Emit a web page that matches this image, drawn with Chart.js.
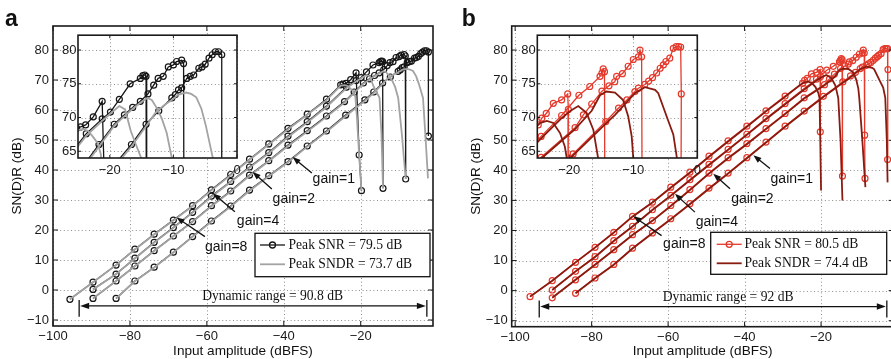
<!doctype html>
<html lang="en">
<head>
<meta charset="UTF-8">
<title>SN(D)R versus input amplitude</title>
<script src="https://cdn.jsdelivr.net/npm/chart.js@4.4.1/dist/chart.umd.min.js"></script>
<style>
  html, body { margin: 0; padding: 0; background: #fff; }
  body { width: 891px; height: 359px; overflow: hidden; position: relative; }
  canvas { position: absolute; }
</style>
</head>
<body>
<canvas id="mainA" width="445" height="359" style="left:0;top:0;width:445px;height:359px"></canvas>
<canvas id="insetA" width="200" height="150" style="left:50px;top:30px;width:200px;height:150px"></canvas>
<canvas id="mainB" width="460" height="359" style="left:445px;top:0;width:460px;height:359px"></canvas>
<canvas id="insetB" width="200" height="150" style="left:509px;top:30px;width:200px;height:150px"></canvas>
<script>
const SANS = "'Liberation Sans', Arial, Helvetica, sans-serif";
const SERIF = "'Liberation Serif', 'Times New Roman', serif";

// tick labels
const mainXTicks = [-100, -80, -60, -40, -20];
const mainYTicks = [-10, 0, 10, 20, 30, 40, 50, 60, 70, 80];
const insetXTicks = [-20, -10, 0];
const insetYTicks = [65, 70, 75, 80];

// panel a  -- [input amplitude (dBFS), dB]
const aSnr8 = [[-95.6,-3.1],[-89.6,2.6],[-83.6,8.3],[-78.7,13.6],[-73.7,18.6],[-68.7,23.3],[-63.7,28.1],[-58.8,33.4],[-53.8,38.5],[-48.9,43.6],[-43.9,48.7],[-38.9,53.9],[-33.9,58.6],[-28.9,63.6],[-25.2,68.4],[-24.6,68.6],[-23.8,68.9],[-22.6,70.1],[-21.2,72.4],[-20.4,45.0],[-19.8,33.1]];
const aSndr8 = [[-95.6,-3.1],[-89.6,2.6],[-83.6,8.3],[-78.7,13.5],[-73.7,18.5],[-68.7,23.2],[-63.7,28.0],[-58.8,33.2],[-53.8,38.3],[-48.9,43.4],[-43.9,48.5],[-38.9,53.6],[-33.9,58.4],[-28.9,63.3],[-25.2,68.1],[-24.2,68.3],[-23.4,68.0],[-22.7,67.2],[-21.9,66.2],[-21.4,64.5],[-21.0,58.0],[-20.4,45.0],[-19.8,33.1]];
const aSnr4 = [[-89.6,0.2],[-83.6,5.3],[-78.7,10.6],[-73.7,15.9],[-68.7,20.8],[-63.7,25.9],[-58.8,31.3],[-53.8,36.2],[-48.9,41.0],[-43.9,45.8],[-38.9,51.3],[-33.9,56.1],[-28.9,61.3],[-23.7,67.6],[-21.2,69.8],[-19.9,70.8],[-18.5,72.7],[-16.8,75.0],[-15.2,75.8],[-14.8,76.2],[-14.5,76.3],[-14.3,76.1],[-14.2,33.9]];
const aSndr4 = [[-89.6,0.2],[-83.6,5.3],[-78.7,10.5],[-73.7,15.8],[-68.7,20.7],[-63.7,25.8],[-58.8,31.1],[-53.8,36.0],[-48.9,40.8],[-43.9,45.6],[-38.9,51.0],[-33.9,55.8],[-28.9,61.0],[-23.7,67.3],[-21.2,69.5],[-19.9,70.6],[-18.5,71.7],[-17.6,71.2],[-16.7,68.0],[-15.9,66.0],[-15.1,64.1],[-14.6,52.0],[-14.2,33.9]];
const aSnr2 = [[-89.6,-2.8],[-83.6,3.0],[-78.7,8.0],[-73.7,13.1],[-68.7,18.0],[-63.7,22.8],[-58.8,28.1],[-53.8,33.0],[-48.9,38.3],[-43.9,43.1],[-38.9,48.3],[-33.9,53.1],[-28.9,58.0],[-24.2,62.8],[-21.7,66.0],[-19.3,69.0],[-17.7,70.4],[-16.4,71.5],[-15.2,72.4],[-14.0,73.5],[-13.1,74.8],[-12.4,75.8],[-11.6,76.1],[-10.8,77.5],[-10.0,77.8],[-9.5,78.3],[-8.7,78.5],[-8.4,78.0],[-8.3,37.0]];
const aSndr2 = [[-89.6,-2.8],[-83.6,3.0],[-78.7,7.9],[-73.7,13.0],[-68.7,17.9],[-63.7,22.7],[-58.8,27.9],[-53.8,32.8],[-48.9,38.1],[-43.9,42.9],[-38.9,48.0],[-33.9,52.8],[-28.9,57.7],[-24.2,62.5],[-21.7,65.7],[-19.3,68.8],[-17.7,70.2],[-16.4,71.3],[-15.2,72.2],[-14.1,72.9],[-13.4,72.6],[-12.6,71.4],[-11.8,69.8],[-11.05,67.7],[-10.25,64.0],[-9.3,52.0],[-8.3,37.0]];
const aSnr1 = [[-83.6,-2.8],[-78.7,3.0],[-73.7,7.6],[-68.7,12.6],[-63.7,17.8],[-58.8,23.0],[-53.8,28.0],[-48.9,33.3],[-43.9,38.1],[-38.9,42.8],[-33.9,48.0],[-28.9,53.0],[-23.9,58.3],[-18.9,63.4],[-16.6,66.0],[-14.3,69.0],[-12.3,71.0],[-10.25,72.9],[-9.7,73.4],[-9.2,74.1],[-8.7,74.4],[-7.9,75.8],[-7.35,76.1],[-6.8,76.3],[-6.0,77.3],[-5.5,77.5],[-5.0,77.9],[-4.4,78.8],[-3.9,79.3],[-3.4,79.75],[-2.9,79.75],[-2.4,79.3],[-2.4,51.3]];
const aSndr1 = [[-83.6,-2.8],[-78.7,2.9],[-73.7,7.5],[-68.7,12.5],[-63.7,17.7],[-58.8,22.8],[-53.8,27.8],[-48.9,33.1],[-43.9,37.9],[-38.9,42.6],[-33.9,47.8],[-28.9,52.7],[-23.9,58.0],[-18.9,63.1],[-16.6,65.7],[-14.3,68.7],[-12.9,70.6],[-11.5,71.8],[-10.25,72.6],[-9.2,73.4],[-8.0,73.7],[-7.2,73.5],[-6.4,73.0],[-5.6,71.3],[-4.9,68.8],[-3.8,64.0],[-3.2,52.0],[-2.5,37.2]];

// panel b
const bSnr8 = [[-96.1,-2.0],[-90.3,3.3],[-84.2,9.4],[-79.1,14.4],[-74.2,19.4],[-69.3,24.7],[-64.1,29.4],[-59.3,34.4],[-54.3,39.4],[-49.3,44.7],[-44.3,49.8],[-39.4,54.7],[-34.4,59.8],[-29.4,64.7],[-24.85,68.9],[-24.3,69.9],[-23.6,70.6],[-22.5,72.1],[-21.2,72.6],[-20.25,73.5],[-20.15,71.2],[-20.2,52.8]];
const bSndr8 = [[-96.1,-2.0],[-90.3,3.3],[-84.2,9.4],[-79.1,14.3],[-74.2,19.3],[-69.3,24.6],[-64.1,29.3],[-59.3,34.2],[-54.3,39.2],[-49.3,44.5],[-44.3,49.6],[-39.4,54.5],[-34.4,59.6],[-29.4,64.5],[-25.6,68.3],[-24.5,69.2],[-23.5,69.5],[-22.5,69.2],[-21.45,67.7],[-20.7,65.7],[-20.4,64.0],[-20.2,50.0],[-20.0,33.3]];
const bSnr4 = [[-90.3,0.2],[-84.2,6.4],[-79.1,11.3],[-74.2,16.6],[-69.3,21.4],[-64.1,26.9],[-59.3,31.7],[-54.3,36.9],[-49.3,42.0],[-44.3,47.0],[-39.4,52.0],[-34.4,57.2],[-29.4,62.2],[-24.4,67.2],[-21.2,70.3],[-18.5,73.3],[-16.8,74.6],[-15.2,76.1],[-14.9,76.6],[-14.7,77.2],[-14.5,76.8],[-14.4,38.1]];
const bSndr4 = [[-90.3,0.2],[-84.2,6.4],[-79.1,11.2],[-74.2,16.5],[-69.3,21.3],[-64.1,26.8],[-59.3,31.5],[-54.3,36.7],[-49.3,41.8],[-44.3,46.8],[-39.4,51.8],[-34.4,57.0],[-29.4,62.0],[-24.4,66.9],[-21.2,69.9],[-19.8,71.0],[-18.6,71.7],[-17.3,70.7],[-16.25,68.2],[-15.5,64.0],[-14.9,50.0],[-14.4,30.0]];
const bSnr2 = [[-90.3,-2.4],[-84.2,3.6],[-79.1,8.7],[-74.2,13.6],[-69.3,18.6],[-64.1,23.3],[-59.3,28.3],[-54.3,33.6],[-49.3,39.1],[-44.3,44.2],[-39.4,48.9],[-34.4,53.9],[-29.4,58.9],[-24.4,64.1],[-19.1,68.5],[-17.8,70.4],[-16.5,72.0],[-14.9,73.9],[-13.8,74.7],[-12.9,75.3],[-12.6,76.1],[-11.7,76.5],[-10.8,77.6],[-10.0,78.6],[-9.2,79.0],[-8.95,80.0],[-8.7,79.0],[-8.6,51.7],[-8.5,37.3]];
const bSndr2 = [[-90.3,-2.4],[-84.2,3.6],[-79.1,8.6],[-74.2,13.5],[-69.3,18.5],[-64.1,23.2],[-59.3,28.1],[-54.3,33.4],[-49.3,38.9],[-44.3,44.0],[-39.4,48.7],[-34.4,53.7],[-29.4,58.7],[-24.4,63.9],[-19.1,68.3],[-16.5,71.0],[-15.2,73.3],[-14.2,73.85],[-12.85,73.7],[-11.6,72.6],[-10.8,70.2],[-10.25,67.2],[-10.0,64.0],[-9.2,50.0],[-8.4,34.4]];
const bSnr1 = [[-84.2,-0.9],[-79.1,4.2],[-74.2,8.7],[-69.3,14.1],[-64.1,19.2],[-59.3,23.9],[-54.3,28.9],[-49.3,34.1],[-44.3,39.1],[-39.4,44.2],[-34.4,49.4],[-29.4,54.7],[-24.4,59.7],[-19.4,64.6],[-14.3,69.4],[-12.3,71.4],[-11.0,72.6],[-9.75,73.85],[-9.2,74.35],[-8.2,74.9],[-7.6,75.4],[-7.0,75.9],[-6.35,76.6],[-5.8,77.3],[-5.3,77.8],[-4.9,78.3],[-4.3,78.8],[-3.75,80.25],[-3.3,80.5],[-2.9,80.5],[-2.6,80.45],[-2.5,73.5],[-2.6,43.6]];
const bSndr1 = [[-84.2,-0.9],[-79.1,4.1],[-74.2,8.6],[-69.3,14.0],[-64.1,19.1],[-59.3,23.7],[-54.3,28.7],[-49.3,33.9],[-44.3,38.9],[-39.4,44.0],[-34.4,49.2],[-29.4,54.5],[-24.4,59.5],[-19.4,64.4],[-14.3,69.1],[-12.85,70.4],[-11.2,72.1],[-9.75,73.6],[-8.2,74.5],[-6.6,74.1],[-6.1,73.6],[-4.5,69.4],[-3.75,67.5],[-3.2,64.1],[-2.8,50.0],[-2.6,36.0]];

const colA = { snr: '#161616', sndr: '#a3a3a3' };
const colB = { snr: '#e5392b', sndr: '#8a1b10' };

function pts(arr) { return arr.map(p => ({ x: p[0], y: p[1] })); }

function snrSet(arr, c) {
  return { data: pts(arr), showLine: true, borderColor: c, borderWidth: 1.3,
    pointRadius: 3, pointBorderWidth: 1.2, pointBorderColor: c,
    pointBackgroundColor: 'rgba(0,0,0,0)', order: 2 };
}
function sndrSet(arr, c) {
  return { data: pts(arr), showLine: true, borderColor: c, borderWidth: 1.8,
    pointRadius: 0, order: 1 };
}

function setsA() {
  return [aSnr8, aSnr4, aSnr2, aSnr1].map(s => snrSet(s, colA.snr))
    .concat([aSndr8, aSndr4, aSndr2, aSndr1].map(s => sndrSet(s, colA.sndr)));
}
function setsB() {
  return [bSnr8, bSnr4, bSnr2, bSnr1].map(s => snrSet(s, colB.snr))
    .concat([bSndr8, bSndr4, bSndr2, bSndr1].map(s => sndrSet(s, colB.sndr)));
}

function fmt(v) { return v < 0 ? '\u2212' + Math.abs(v) : String(v); }

function seg(ctx, x1, y1, x2, y2) {
  ctx.beginPath(); ctx.moveTo(x1, y1); ctx.lineTo(x2, y2); ctx.stroke();
}

// filled arrow head with its tip at (x2, y2)
function head(ctx, x1, y1, x2, y2, len, half) {
  const ang = Math.atan2(y2 - y1, x2 - x1), c = Math.cos(ang), s = Math.sin(ang);
  const bx = x2 - c * len, by = y2 - s * len;
  ctx.beginPath();
  ctx.moveTo(x2, y2);
  ctx.lineTo(bx - s * half, by + c * half);
  ctx.lineTo(bx + s * half, by - c * half);
  ctx.closePath(); ctx.fill();
}

// dotted grid, box and inward ticks (matlab look), plus extra drawing
function deco(cfg) {
  return {
    id: 'deco',
    beforeDraw(chart) {
      if (!cfg.white) return;
      const a = chart.chartArea, ctx = chart.ctx;
      ctx.save();
      ctx.fillStyle = '#fff';
      ctx.fillRect(a.left, a.top, a.right - a.left, a.bottom - a.top);
      ctx.restore();
    },
    beforeDatasetsDraw(chart) {
      const { ctx, chartArea: a, scales: { x, y } } = chart;
      ctx.save();
      ctx.strokeStyle = '#8f8f8f'; ctx.lineWidth = 1; ctx.setLineDash([1, 2.6]);
      cfg.xt.forEach(v => { const p = Math.round(x.getPixelForValue(v)) + 0.5; seg(ctx, p, a.top, p, a.bottom); });
      cfg.yt.forEach(v => { const p = Math.round(y.getPixelForValue(v)) + 0.5; seg(ctx, a.left, p, a.right, p); });
      ctx.restore();
    },
    afterDatasetsDraw(chart) {
      const { ctx, chartArea: a, scales: { x, y } } = chart;
      const L = cfg.tick;
      ctx.save();
      ctx.strokeStyle = '#1a1a1a'; ctx.lineWidth = 1;
      cfg.xt.forEach(v => {
        const p = x.getPixelForValue(v);
        seg(ctx, p, a.bottom, p, a.bottom - L); seg(ctx, p, a.top, p, a.top + L);
      });
      cfg.yt.forEach(v => {
        const p = y.getPixelForValue(v);
        seg(ctx, a.left, p, a.left + L, p); seg(ctx, a.right, p, a.right - L, p);
      });
      ctx.lineWidth = 1.6;
      ctx.strokeRect(a.left, a.top, a.right - a.left, a.bottom - a.top);
      ctx.restore();
    },
    afterDraw(chart) { if (cfg.extra) cfg.extra(chart); }
  };
}

function mainExtra(ann, col) {
  return chart => {
    const { ctx, chartArea: a, scales: { x, y } } = chart;
    const px = v => x.getPixelForValue(v), py = v => y.getPixelForValue(v);
    ctx.save();
    ctx.fillStyle = '#111'; ctx.strokeStyle = '#111';

    ctx.font = 'bold 23px ' + SANS; ctx.textAlign = 'left'; ctx.textBaseline = 'alphabetic';
    ctx.fillText(ann.letter, ann.letterX, 26);

    ctx.font = '13.6px ' + SANS; ctx.textAlign = 'center'; ctx.textBaseline = 'middle';
    ctx.fillText('Input amplitude (dBFS)', (a.left + a.right) / 2, 351.5);
    ctx.save();
    ctx.translate(ann.yTitleX, (a.top + a.bottom) / 2); ctx.rotate(-Math.PI / 2);
    ctx.fillText('SN(D)R (dB)', 0, 0);
    ctx.restore();

    // gain arrows
    ctx.lineWidth = 1.3;
    ann.arrows.forEach(r => {
      const hx = px(r.head[0]), hy = py(r.head[1]), tx = px(r.tail[0]), ty = py(r.tail[1]);
      const d = Math.hypot(hx - tx, hy - ty);
      seg(ctx, tx, ty, hx + (tx - hx) * 6 / d, hy + (ty - hy) * 6 / d);
      head(ctx, tx, ty, hx, hy, 8, 3);
      ctx.font = '14px ' + SANS; ctx.textAlign = 'left'; ctx.textBaseline = 'middle';
      ctx.fillText(r.text, px(r.at[0]), py(r.at[1]));
    });

    // dynamic range
    const R = ann.range;
    const x1 = px(R.x1), x2 = px(R.x2), yy = py(R.y), b1 = py(R.bar[0]), b2 = py(R.bar[1]);
    ctx.lineWidth = 1.3;
    seg(ctx, x1 + 5, yy, x2 - 5, yy);
    seg(ctx, x1, b1, x1, b2); seg(ctx, x2, b1, x2, b2);
    head(ctx, x1 + 12, yy, x1 + 1, yy, 9, 3.2);
    head(ctx, x2 - 12, yy, x2 - 1, yy, 9, 3.2);
    ctx.font = '13.6px ' + SERIF; ctx.textAlign = 'center'; ctx.textBaseline = 'middle';
    ctx.fillText(R.text, px(R.tx), py(R.ty));

    // legend
    const G = ann.legend, bx = G.box;
    ctx.fillStyle = '#fff'; ctx.fillRect(bx[0], bx[1], bx[2], bx[3]);
    ctx.strokeStyle = '#111'; ctx.lineWidth = 1.3; ctx.strokeRect(bx[0], bx[1], bx[2], bx[3]);
    ctx.strokeStyle = col.snr; ctx.lineWidth = 1.3;
    seg(ctx, G.lineX[0], G.rows[0], G.lineX[1], G.rows[0]);
    ctx.beginPath(); ctx.arc((G.lineX[0] + G.lineX[1]) / 2, G.rows[0], 3, 0, Math.PI * 2); ctx.stroke();
    ctx.strokeStyle = col.sndr; ctx.lineWidth = 1.8;
    seg(ctx, G.lineX[0], G.rows[1], G.lineX[1], G.rows[1]);
    ctx.fillStyle = '#111'; ctx.font = '13.6px ' + SERIF; ctx.textAlign = 'left'; ctx.textBaseline = 'middle';
    ctx.fillText(G.texts[0], G.textX, G.rows[0]);
    ctx.fillText(G.texts[1], G.textX, G.rows[1]);
    ctx.restore();
  };
}

function makeChart(id, sets, xr, yr, xt, yt, geom, cfg) {
  return new Chart(document.getElementById(id), {
    type: 'scatter',
    data: { datasets: sets },
    options: {
      responsive: false, animation: false, devicePixelRatio: 1, events: [],
      layout: { padding: geom.pad },
      plugins: { legend: { display: false }, tooltip: { enabled: false } },
      scales: {
        x: {
          type: 'linear', min: xr[0], max: xr[1],
          grid: { display: false, drawTicks: false }, border: { display: false },
          afterBuildTicks: s => { s.ticks = xt.map(v => ({ value: v })); },
          afterFit: s => { s.height = geom.xh; s.paddingLeft = 0; s.paddingRight = 0; },
          ticks: { autoSkip: false, maxRotation: 0, padding: geom.xpad, color: '#1a1a1a',
            font: { family: SANS, size: 13 }, callback: fmt }
        },
        y: {
          type: 'linear', min: yr[0], max: yr[1],
          grid: { display: false, drawTicks: false }, border: { display: false },
          afterBuildTicks: s => { s.ticks = yt.map(v => ({ value: v })); },
          afterFit: s => { s.width = geom.yw; s.paddingTop = 0; s.paddingBottom = 0; },
          ticks: { autoSkip: false, padding: geom.ypad, color: '#1a1a1a',
            font: { family: SANS, size: 13 }, callback: fmt }
        }
      }
    },
    plugins: [deco(cfg)]
  });
}

const annA = {
  letter: 'a', letterX: 5, yTitleX: 17,
  arrows: [
    { head: [-37.7, 44.3], tail: [-32.7, 39.0], text: 'gain=1', at: [-32.5, 37.0] },
    { head: [-48.1, 39.3], tail: [-43.1, 33.7], text: 'gain=2', at: [-42.9, 30.3] },
    { head: [-58.4, 32.2], tail: [-52.7, 26.1], text: 'gain=4', at: [-52.2, 22.8] },
    { head: [-67.9, 24.2], tail: [-60.5, 17.8], text: 'gain=8', at: [-60.5, 14.4] }
  ],
  range: { x1: -93.2, x2: -2.8, y: -5.3, bar: [-3.3, -8.9], text: 'Dynamic range = 90.8 dB', tx: -42.9, ty: -2.0 },
  legend: { box: [255, 233.3, 175, 43.4], rows: [245, 264.3], lineX: [260, 285], textX: 288.5,
    texts: ['Peak SNR = 79.5 dB', 'Peak SNDR = 73.7 dB'] }
};
const annB = {
  letter: 'b', letterX: 16.7, yTitleX: 30.8,
  arrows: [
    { head: [-37.7, 45.0], tail: [-33.35, 40.6], text: 'gain=1', at: [-33.2, 37.2] },
    { head: [-48.2, 38.9], tail: [-43.8, 33.9], text: 'gain=2', at: [-43.5, 30.3] },
    { head: [-58.2, 32.2], tail: [-53.0, 26.1], text: 'gain=4', at: [-52.8, 22.8] },
    { head: [-69.1, 24.7], tail: [-61.7, 18.3], text: 'gain=8', at: [-61.3, 15.6] }
  ],
  range: { x1: -93.7, x2: -2.8, y: -5.3, bar: [-3.3, -8.9], text: 'Dynamic range = 92 dB', tx: -44.3, ty: -2.2 },
  legend: { box: [265.7, 232.3, 176, 42], rows: [244.3, 263.3], lineX: [271.7, 296.7], textX: 299.5,
    texts: ['Peak SNR = 80.5 dB', 'Peak SNDR = 74.4 dB'] }
};

makeChart('mainA', setsA(), [-100, -1.2], [-12, 88], mainXTicks, mainYTicks,
  { pad: { left: 0, top: 26, right: 12, bottom: 0 }, yw: 53, xh: 33, xpad: 2.5, ypad: 4 },
  { xt: mainXTicks, yt: mainYTicks, tick: 5, extra: mainExtra(annA, colA) });

makeChart('insetA', setsA(), [-25, 0], [64, 82.2], insetXTicks, insetYTicks,
  { pad: { left: 0, top: 5, right: 13, bottom: 0 }, yw: 28, xh: 22, xpad: 4.5, ypad: 1.5 },
  { xt: insetXTicks, yt: insetYTicks, tick: 3, white: true });

makeChart('mainB', setsB(), [-100.9, -1.0], [-12, 88], mainXTicks, mainYTicks,
  { pad: { left: 0, top: 26, right: 11.3, bottom: 0 }, yw: 66.7, xh: 32.3, xpad: 2.5, ypad: 4 },
  { xt: mainXTicks, yt: mainYTicks, tick: 5, extra: mainExtra(annB, colB) });

makeChart('insetB', setsB(), [-25, 0], [64, 82.2], insetXTicks, insetYTicks,
  { pad: { left: 0, top: 5, right: 11.7, bottom: 0 }, yw: 28.3, xh: 22, xpad: 4.5, ypad: 1.5 },
  { xt: insetXTicks, yt: insetYTicks, tick: 3, white: true });
</script>
</body>
</html>
